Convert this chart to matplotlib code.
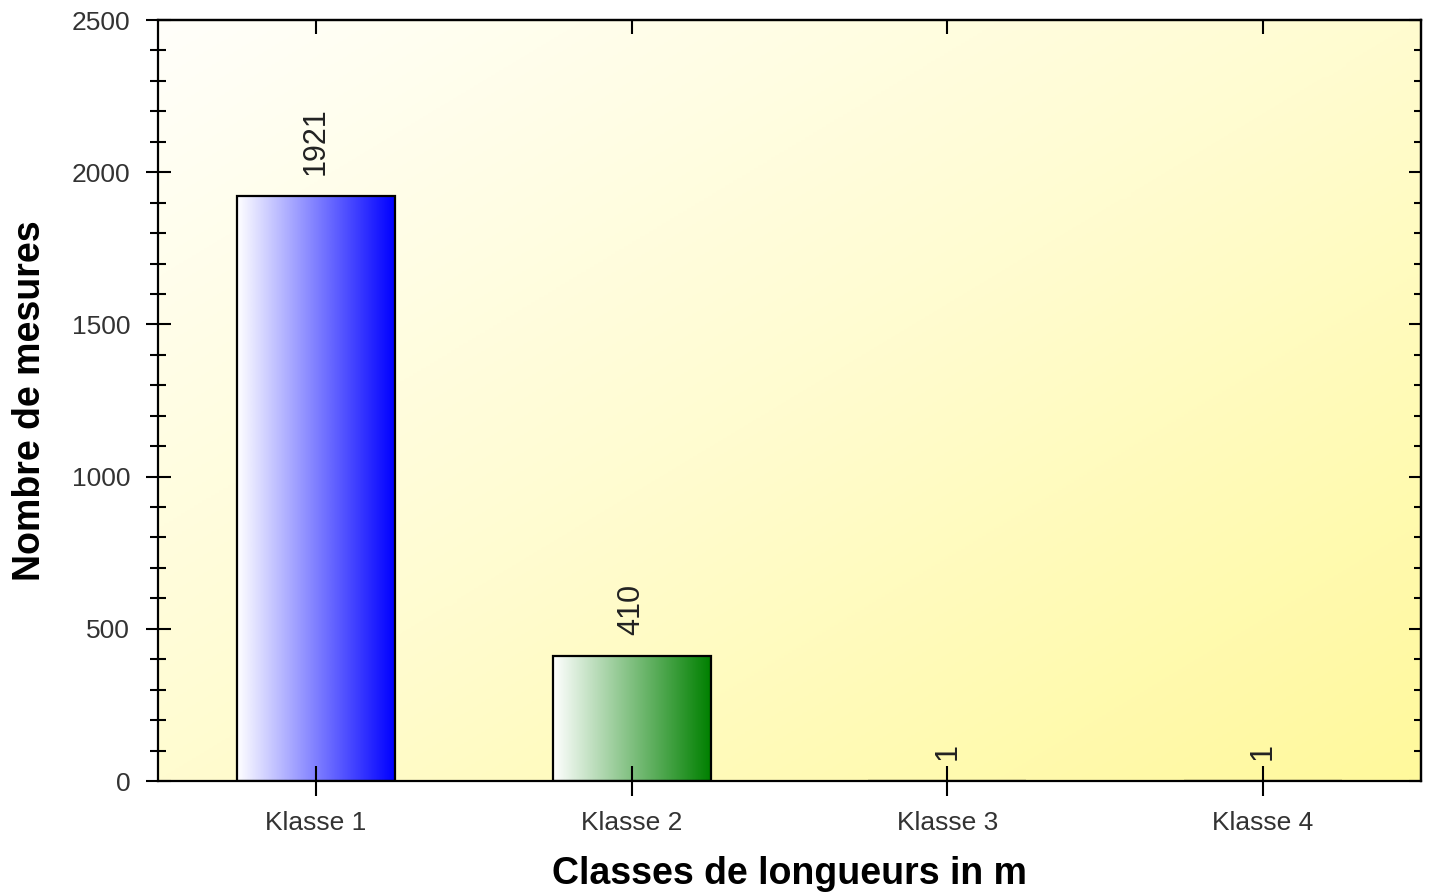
import numpy as np
import matplotlib.pyplot as plt
from matplotlib.colors import LinearSegmentedColormap

# Data
categories = ['Klasse 1', 'Klasse 2', 'Klasse 3', 'Klasse 4']
counts = [1921, 410, 1, 1]
bar_colors = ['#0000ff', '#008000', '#c00000', '#c0c000']

plt.rcParams['font.family'] = ['Liberation Sans', 'DejaVu Sans']

fig = plt.figure(figsize=(14.31, 8.93), dpi=100)
fig.patch.set_facecolor('white')
ax = fig.add_axes([0.1104, 0.1254, 0.8826, 0.8522])

x = np.arange(len(categories))
ax.set_xlim(-0.5, len(categories) - 0.5)
ax.set_ylim(0, 2500)

# diagonal background gradient, white top-left -> yellow bottom-right
gx, gy = np.meshgrid(np.linspace(0, 1, 300), np.linspace(0, 1, 300))
t = (gx + gy) / 2
bg_cmap = LinearSegmentedColormap.from_list('bg', ['#fffffa', '#fffcd0', '#fff99c'])
ax.imshow(t, cmap=bg_cmap, extent=[0, 1, 0, 1], transform=ax.transAxes,
          aspect='auto', zorder=0, origin='upper')

# bars with horizontal gradient white -> colour
bars = ax.bar(x, counts, width=0.5, facecolor='none', edgecolor='black',
              linewidth=1.6, zorder=2)
grad = np.linspace(0, 1, 256).reshape(1, -1)
for b, c in zip(bars, bar_colors):
    cm = LinearSegmentedColormap.from_list('b', ['#ffffff', c])
    x0, y0 = b.get_x(), b.get_y()
    w, h = b.get_width(), b.get_height()
    im = ax.imshow(grad, cmap=cm, extent=[x0, x0 + w, y0, y0 + h],
                   aspect='auto', zorder=1.5, origin='lower')
    im.set_clip_path(b)

# value labels
for xi, v in zip(x, counts):
    ax.annotate(str(v), (xi, v), xytext=(0, 15), textcoords='offset points',
                rotation=90, ha='center', va='bottom', fontsize=22, color='#222222')

ax.set_xticks(x)
ax.set_xticklabels(categories)
ax.set_yticks(np.arange(0, 2501, 500))
ax.set_yticks(np.arange(0, 2501, 100), minor=True)

ax.tick_params(axis='y', which='major', direction='inout', length=18, width=1.5,
               pad=11, labelsize=19, labelcolor='#333333')
ax.tick_params(axis='y', which='minor', direction='inout', length=11, width=1.5)
ax.tick_params(axis='x', which='major', direction='inout', length=21, width=1.5,
               pad=11, labelsize=19, labelcolor='#333333')

for s in ax.spines.values():
    s.set_linewidth(1.6)

# inward ticks on top and right
top = ax.secondary_xaxis('top')
top.set_xticks(x)
top.set_xticklabels([])
top.tick_params(direction='in', length=10, width=1.5)
top.spines['top'].set_linewidth(1.6)

right = ax.secondary_yaxis('right')
right.set_yticks(np.arange(0, 2501, 500))
right.set_yticks(np.arange(0, 2501, 100), minor=True)
right.set_yticklabels([])
right.tick_params(which='major', direction='in', length=9, width=1.5)
right.tick_params(which='minor', direction='in', length=5, width=1.5)
right.spines['right'].set_linewidth(1.6)

ax.set_xlabel('Classes de longueurs in m', fontsize=27, fontweight='bold', labelpad=15)
ax.set_ylabel('Nombre de mesures', fontsize=27, fontweight='bold', labelpad=17)

fig.savefig('out.png', dpi=100)
